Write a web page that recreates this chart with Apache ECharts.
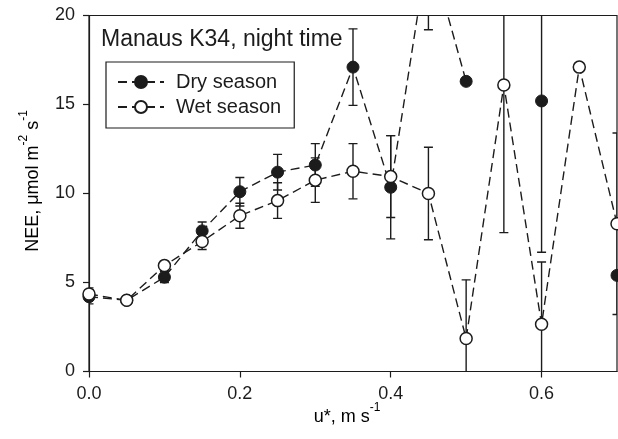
<!DOCTYPE html>
<html>
<head>
<meta charset="utf-8">
<script src="https://cdn.jsdelivr.net/npm/echarts@6/dist/echarts.min.js"></script>
<style>
html, body { margin: 0; padding: 0; background: #fff; }
#chart { width: 618px; height: 439px; }
</style>
</head>
<body>
<div id="chart"></div>
<script>
// Friction velocity classes (m s-1)
const uStar = [0.0, 0.05, 0.1, 0.15, 0.2, 0.25, 0.3, 0.35, 0.4, 0.45, 0.5, 0.55, 0.6, 0.65, 0.7];
// Night-time NEE per u* class, umol m-2 s-1 (null = no data in that class)
const dryNEE = [4.2, 4.0, 5.3, 7.9, 10.1, 11.2, 11.6, 17.1, 10.35, 23.9, 16.3, null, 15.2, null, 5.4];
const dryErr = [0.4, 0.15, 0.3, 0.5, 0.8, 1.0, 1.2, 2.15, 2.9, 4.7, null, null, 8.5, null, null];
const wetNEE = [4.35, 4.0, 5.95, 7.3, 8.75, 9.6, 10.75, 11.25, 10.95, 10.0, 1.85, 16.1, 2.65, 17.1, 8.3];
const wetErr = [0.35, 0.15, 0.25, 0.45, 0.7, 1.0, 1.25, 1.55, 2.3, 2.6, 3.3, 8.3, 3.5, null, 5.1];
// Axis ticks
const xTicks = [0, 0.2, 0.4, 0.6];
const yTicks = [0, 5, 10, 15, 20];
const seriesNames = ['Dry season', 'Wet season'];
const titleText = 'Manaus K34, night time';

const FONT = '"Liberation Sans", Arial, Helvetica, sans-serif';
const INK = '#1c1c1c';

function points(vals) {
  return uStar.map((u, i) => [u, vals[i]]);
}
function errRows(vals, errs) {
  return uStar.map((u, i) => [u, vals[i], errs[i]])
    .filter(r => r[1] != null && r[2] != null);
}

// vertical error bar with caps
function renderErr(params, api) {
  const x = api.value(0), y = api.value(1), e = api.value(2);
  const top = api.coord([x, y + e]);
  const bot = api.coord([x, y - e]);
  const hw = 4.5;
  const style = { stroke: INK, lineWidth: 1.4, fill: null };
  return {
    type: 'group',
    children: [
      { type: 'line', shape: { x1: top[0], y1: top[1], x2: bot[0], y2: bot[1] }, style },
      { type: 'line', shape: { x1: top[0] - hw, y1: top[1], x2: top[0] + hw, y2: top[1] }, style },
      { type: 'line', shape: { x1: bot[0] - hw, y1: bot[1], x2: bot[0] + hw, y2: bot[1] }, style }
    ]
  };
}

const lineStyle = { type: [9, 5], width: 1.4, color: INK };
const supRich = {
  a: { fontSize: 18, fontFamily: FONT, color: INK, lineHeight: 24, verticalAlign: 'bottom' },
  s: { fontSize: 12, fontFamily: FONT, color: INK, lineHeight: 12, verticalAlign: 'top' }
};

const chart = echarts.init(document.getElementById('chart'), null, { renderer: 'canvas' });
chart.setOption({
  animation: false,
  backgroundColor: '#fff',
  textStyle: { fontFamily: FONT, color: INK },
  grid: {
    left: 89, top: 15.5, width: 528, height: 356,
    show: true, borderColor: INK, borderWidth: 1.2, backgroundColor: 'transparent'
  },
  title: {
    text: titleText, left: 101, top: 28, padding: 0,
    textStyle: { fontSize: 23, fontWeight: 'normal', color: INK, fontFamily: FONT }
  },
  legend: {
    data: seriesNames, orient: 'vertical', left: 106, top: 62,
    padding: [10, 13, 11, 11], itemWidth: 46, itemHeight: 15, itemGap: 5,
    borderColor: INK, borderWidth: 1.2, borderRadius: 0, backgroundColor: '#fff',
    textStyle: { fontSize: 20, color: INK, fontFamily: FONT, padding: [0, 0, 0, 7] }
  },
  xAxis: {
    type: 'value', min: 0, max: 0.7,
    axisLine: { show: true, lineStyle: { color: INK, width: 1.2 } },
    axisTick: { show: true, inside: false, length: 6, customValues: xTicks, lineStyle: { color: INK, width: 1.2 } },
    axisLabel: { customValues: xTicks, formatter: v => v.toFixed(1), fontSize: 18, color: INK, fontFamily: FONT, margin: 14 },
    splitLine: { show: false }
  },
  yAxis: {
    type: 'value', min: 0, max: 20,
    axisLine: { show: true, lineStyle: { color: INK, width: 1.2 } },
    axisTick: { show: true, inside: false, length: 6, customValues: yTicks, lineStyle: { color: INK, width: 1.2 } },
    axisLabel: { customValues: yTicks, fontSize: 18, color: INK, fontFamily: FONT, margin: 14 },
    splitLine: { show: false }
  },
  graphic: [
    {
      type: 'text', x: 30, y: 181, rotation: Math.PI / 2,
      style: { text: '{a|NEE, μmol m}{s|-2}{a| s}{s|-1}', rich: supRich, align: 'center', verticalAlign: 'middle' }
    },
    {
      type: 'text', x: 347, y: 414,
      style: { text: '{a|u*, m s}{s|-1}', rich: supRich, align: 'center', verticalAlign: 'middle' }
    }
  ],
  series: [
    {
      type: 'custom', name: 'dryErr', clip: true, z: 1,
      renderItem: renderErr, data: errRows(dryNEE, dryErr)
    },
    {
      type: 'custom', name: 'wetErr', clip: true, z: 1,
      renderItem: renderErr, data: errRows(wetNEE, wetErr)
    },
    {
      type: 'line', name: seriesNames[0], data: points(dryNEE), z: 3,
      clip: true, connectNulls: false, showAllSymbol: true,
      symbol: 'circle', symbolSize: 12,
      lineStyle: lineStyle,
      itemStyle: { color: INK, borderColor: INK, borderWidth: 1 }
    },
    {
      type: 'line', name: seriesNames[1], data: points(wetNEE), z: 4,
      clip: true, connectNulls: false, showAllSymbol: true,
      symbol: 'circle', symbolSize: 12,
      lineStyle: lineStyle,
      itemStyle: { color: '#fff', borderColor: INK, borderWidth: 1.5 }
    }
  ]
});
</script>
</body>
</html>
